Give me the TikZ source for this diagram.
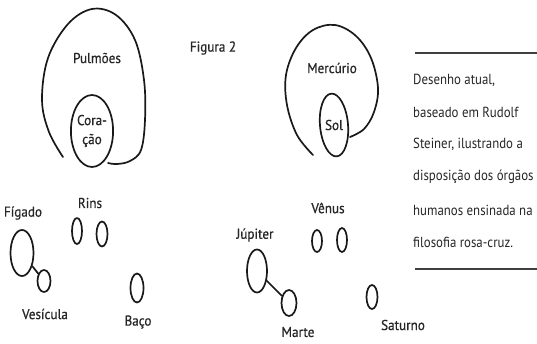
\documentclass[tikz,border=0pt]{standalone}
\usepackage{fontspec}
\setmainfont{PT Sans}[FakeStretch=0.88]
\newfontfamily\handfont{PT Sans}[FakeStretch=0.92, FakeBold=0.6]
\usetikzlibrary{shapes.geometric}
\begin{document}
\begin{tikzpicture}[x=1pt,y=-1pt,
  stroke/.style={draw=black!90, line width=1.7pt, line cap=round, line join=round},
  organ/.style={stroke, ellipse, inner sep=0pt},
  lbl/.style={font=\handfont\fontsize{14.3}{16}\selectfont, text=black!85, inner sep=0pt},
  note/.style={font=\fontsize{14.6}{16}\selectfont, text=black!85, inner sep=0pt, anchor=west},
  rule/.style={draw=black!75, line width=1.3pt}]
\useasboundingbox (0,0) rectangle (537,343);
% Pulmoes outer curve
\draw[stroke] plot[smooth, tension=0.6] coordinates {(63,157) (49,132) (42,100) (48,58) (68,24) (92,9) (116,15) (135,40) (144,80) (145,120) (141,150) (130,161) (117,164) (108,163)};
\node[organ, minimum width=39pt, minimum height=72pt, align=center, lbl] (coracao) at (92,131) {Cora-\\[3pt]ção};
\node[lbl] (pulmoes) at (97,58) {Pulmões};
\node[lbl] (figura) at (213,48) {Figura 2};
% Mercurio outer curve
\draw[stroke] plot[smooth, tension=0.6] coordinates {(350,137) (364,129) (374,112) (378,88) (371,58) (356,36) (335,25) (313,30) (296,48) (286,75) (287,105) (297,135) (313,155)};
\node[organ, minimum width=28pt, minimum height=63pt, rotate=5] (sol) at (334,125) {};
\node[lbl] at (sol.center) {Sol};
\node[lbl] (mercurio) at (332,68) {Mercúrio};
% Right note
\draw[rule] (415,53) coordinate (r1a) -- (537,53) coordinate (r1b);
\node[note] (n1) at (413,80) {Desenho atual,};
\node[note] (n2) at (413,112) {baseado em Rudolf};
\node[note] (n3) at (413,144) {Steiner, ilustrando a};
\node[note] (n4) at (413,177) {disposição dos órgãos};
\node[note] (n5) at (413,210) {humanos ensinada na};
\node[note] (n6) at (413,242) {filosofia rosa-cruz.};
\draw[rule] (415,269) coordinate (r2a) -- (537,269) coordinate (r2b);
% Lower organs
\node[organ, minimum width=23pt, minimum height=46pt] (figado) at (22,253) {};
\node[organ, minimum width=13pt, minimum height=22pt] (vesicula) at (44,281) {};
\draw[stroke] (figado) -- (vesicula);
\node[lbl] (lfigado) at (23,213) {Fígado};
\node[lbl] (lvesicula) at (45,314) {Vesícula};
\node[organ, minimum width=10pt, minimum height=26pt] (rim1) at (77,231) {};
\node[organ, minimum width=11pt, minimum height=25pt] (rim2) at (102,234) {};
\node[lbl] (lrins) at (90,203) {Rins};
\node[organ, minimum width=13pt, minimum height=29pt] (baco) at (137,288) {};
\node[lbl] (lbaco) at (138,322) {Baço};
\node[organ, minimum width=20pt, minimum height=43pt] (jupiter) at (257,271) {};
\node[organ, minimum width=15pt, minimum height=26pt] (marte) at (289,303) {};
\draw[stroke] (jupiter) -- (marte);
\node[lbl] (ljupiter) at (255,235) {Júpiter};
\node[lbl] (lmarte) at (298,332) {Marte};
\node[organ, minimum width=10pt, minimum height=22pt] (venus1) at (317,241) {};
\node[organ, minimum width=10pt, minimum height=24pt] (venus2) at (342,240) {};
\node[lbl] (lvenus) at (328,208) {Vênus};
\node[organ, minimum width=11pt, minimum height=24pt] (saturno) at (372,297) {};
\node[lbl] (lsaturno) at (403,325) {Saturno};
\end{tikzpicture}
\end{document}
